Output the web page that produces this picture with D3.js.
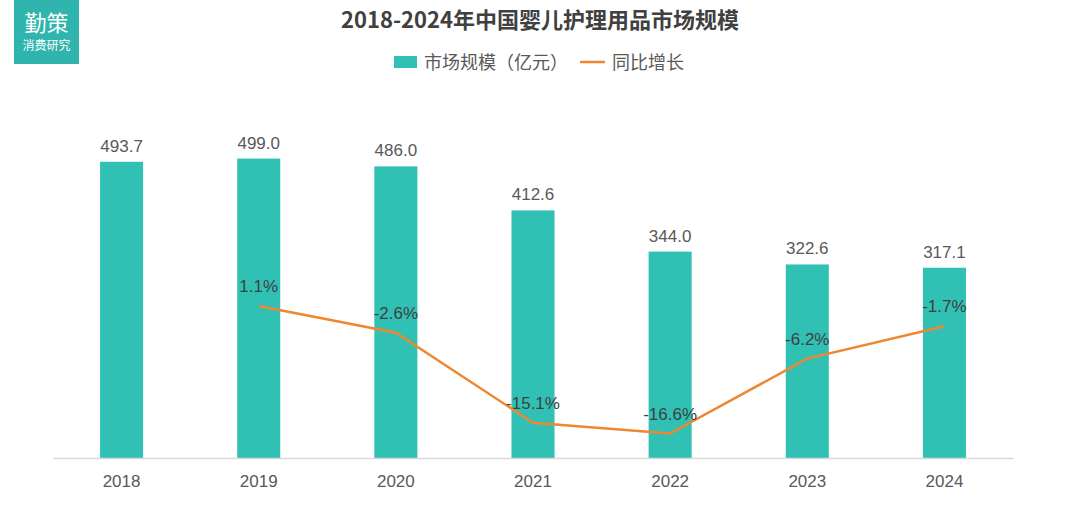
<!DOCTYPE html>
<html>
<head>
<meta charset="utf-8">
<script src="https://cdn.jsdelivr.net/npm/d3@7"></script>
<style>
  body { margin: 0; background: #fff; }
  svg { display: block; font-family: "Liberation Sans", "Noto Sans CJK SC", sans-serif; }
</style>
</head>
<body>
<div class="container"></div>
<script>
const years = ["2018", "2019", "2020", "2021", "2022", "2023", "2024"];
const marketSize = [493.7, 499.0, 486.0, 412.6, 344.0, 322.6, 317.1];
const growthYears = ["2019", "2020", "2021", "2022", "2023", "2024"];
const growth = [1.1, -2.6, -15.1, -16.6, -6.2, -1.7];

const width = 1080;
const height = 505;
const teal = "#31c1b4";
const orange = "#ef8730";

const svg = d3
  .select(".container")
  .append("svg")
  .attr("width", width)
  .attr("height", height);

// logo block
svg.append("rect")
  .attr("x", 14).attr("y", 0)
  .attr("width", 65).attr("height", 64)
  .attr("fill", "#2fb5ad");
svg.append("text")
  .attr("x", 46.5).attr("y", 31)
  .attr("text-anchor", "middle")
  .attr("fill", "#fff")
  .style("font-family", "'Noto Sans CJK SC'")
  .style("font-size", "22px")
  .text("勤策");
svg.append("text")
  .attr("x", 46.5).attr("y", 50)
  .attr("text-anchor", "middle")
  .attr("fill", "#fff")
  .style("font-family", "'Noto Sans CJK SC'")
  .style("font-size", "12px")
  .text("消费研究");

// title
svg.append("text")
  .attr("x", 540).attr("y", 28)
  .attr("text-anchor", "middle")
  .attr("fill", "#404040")
  .style("font-family", "'Noto Sans CJK SC'")
  .style("font-size", "22px")
  .style("font-weight", "bold")
  .text("2018-2024年中国婴儿护理用品市场规模");

// legend
const legend = svg.append("g").style("font-family", "'Noto Sans CJK SC'").style("font-size", "18px");
legend.append("rect")
  .attr("x", 394).attr("y", 56)
  .attr("width", 23).attr("height", 12)
  .attr("fill", teal);
legend.append("text")
  .attr("x", 424).attr("y", 69)
  .attr("fill", "#595959")
  .text("市场规模（亿元）");
legend.append("line")
  .attr("x1", 580).attr("x2", 605)
  .attr("y1", 62).attr("y2", 62)
  .attr("stroke", orange)
  .attr("stroke-width", 2.5);
legend.append("text")
  .attr("x", 612).attr("y", 69)
  .attr("fill", "#595959")
  .text("同比增长");

// scales
const xScale = d3.scaleBand()
  .domain(years)
  .range([53, 1013])
  .paddingInner(0.686)
  .paddingOuter(0.343);

const xCenter = d => xScale(d) + xScale.bandwidth() / 2;

const yScale = d3.scaleLinear().domain([0, 600]).range([458, 98]);
const y2Scale = d3.scaleLinear().domain([-20, 30]).range([458, 98]);

// bars
svg.append("g")
  .selectAll("rect")
  .data(years)
  .enter()
  .append("rect")
  .attr("x", d => xScale(d))
  .attr("y", (d, i) => yScale(marketSize[i]))
  .attr("width", xScale.bandwidth())
  .attr("height", (d, i) => yScale(0) - yScale(marketSize[i]))
  .attr("fill", teal);

// bar labels
svg.append("g")
  .selectAll("text")
  .data(years)
  .enter()
  .append("text")
  .attr("x", d => xCenter(d))
  .attr("y", (d, i) => yScale(marketSize[i]) - 10)
  .attr("text-anchor", "middle")
  .attr("fill", "#595959")
  .style("font-size", "17px")
  .text((d, i) => marketSize[i].toFixed(1));

// x axis
const xAxis = svg.append("g")
  .attr("transform", "translate(0,458)")
  .call(d3.axisBottom(xScale).tickSize(0).tickPadding(17));
xAxis.select(".domain").attr("stroke", "#d9d9d9").attr("stroke-width", 1.5);
xAxis.selectAll("text")
  .attr("fill", "#595959")
  .style("font-family", "'Liberation Sans Narrow', 'Liberation Sans'")
  .style("font-size", "17px");

// growth line
const line = d3.line()
  .x((d, i) => xCenter(growthYears[i]))
  .y(d => y2Scale(d));

svg.append("path")
  .datum(growth)
  .attr("d", line)
  .attr("fill", "none")
  .attr("stroke", orange)
  .attr("stroke-width", 2.5);

svg.append("g")
  .selectAll("text")
  .data(growth)
  .enter()
  .append("text")
  .attr("x", (d, i) => xCenter(growthYears[i]))
  .attr("y", d => y2Scale(d) - 14)
  .attr("text-anchor", "middle")
  .attr("fill", "#404040")
  .style("font-family", "'Liberation Sans Narrow', 'Liberation Sans'")
  .style("font-size", "17px")
  .text(d => d.toFixed(1) + "%");
</script>
</body>
</html>
